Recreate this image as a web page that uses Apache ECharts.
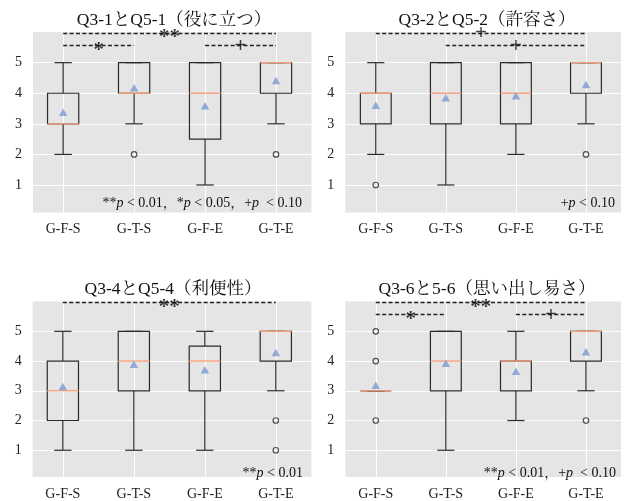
<!DOCTYPE html>
<html>
<head>
<meta charset="utf-8">
<script src="https://cdn.jsdelivr.net/npm/echarts@6/dist/echarts.min.js"></script>
<style>html,body{margin:0;padding:0;background:#fff;}#c{width:624px;height:501px;}</style>
</head>
<body>
<div id="c"></div>
<script>
const categories = ['G-F-S', 'G-T-S', 'G-F-E', 'G-T-E'];
const panelTitles = ['Q3-1とQ5-1（役に立つ）', 'Q3-2とQ5-2（許容さ）', 'Q3-4とQ5-4（利便性）', 'Q3-6と5-6（思い出し易さ）'];
const yTicks = [1, 2, 3, 4, 5];

// [min, Q1, median, Q3, max] per category
const boxQ31 = [[2, 3, 3, 4, 5], [3, 4, 4, 5, 5], [1, 2.5, 4, 5, 5], [3, 4, 5, 5, 5]];
const boxQ32 = [[2, 3, 4, 4, 5], [1, 3, 4, 5, 5], [2, 3, 4, 5, 5], [3, 4, 5, 5, 5]];
const boxQ34 = [[1, 2, 3, 4, 5], [1, 3, 4, 5, 5], [1, 3, 4, 4.5, 5], [3, 4, 5, 5, 5]];
const boxQ36 = [[3, 3, 3, 3, 3], [1, 3, 4, 5, 5], [2, 3, 4, 4, 5], [3, 4, 5, 5, 5]];

const meanQ31 = [3.38, 4.18, 3.59, 4.42];
const meanQ32 = [3.61, 3.85, 3.92, 4.29];
const meanQ34 = [3.14, 3.89, 3.71, 4.29];
const meanQ36 = [3.19, 3.93, 3.66, 4.31];

// [category index, value]
const outlierQ31 = [[1, 2], [3, 2]];
const outlierQ32 = [[0, 1], [3, 2]];
const outlierQ34 = [[3, 2], [3, 1]];
const outlierQ36 = [[0, 2], [0, 4], [0, 5], [3, 2]];

// significance brackets: [from category, to category, level, mark]
const bracketLevels = [5.97, 5.56];
const sigQ31 = [[0, 3, 0, '**'], [0, 1, 1, '*'], [2, 3, 1, '+']];
const sigQ32 = [[0, 3, 0, '+'], [1, 3, 1, '+']];
const sigQ34 = [[0, 3, 0, '**']];
const sigQ36 = [[0, 3, 0, '**'], [0, 1, 1, '*'], [2, 3, 1, '+']];

// notes: pieces [text, italic?]
const noteQ31 = [['**', 0], ['p', 1], [' < 0.01，*', 0], ['p', 1], [' < 0.05，+', 0], ['p', 1], ['  < 0.10', 0]];
const noteQ32 = [['+', 0], ['p', 1], [' < 0.10', 0]];
const noteQ34 = [['**', 0], ['p', 1], [' < 0.01', 0]];
const noteQ36 = [['**', 0], ['p', 1], [' < 0.01，+', 0], ['p', 1], ['  < 0.10', 0]];

const panels = [
  {box: boxQ31, mean: meanQ31, out: outlierQ31, sig: sigQ31, note: noteQ31},
  {box: boxQ32, mean: meanQ32, out: outlierQ32, sig: sigQ32, note: noteQ32},
  {box: boxQ34, mean: meanQ34, out: outlierQ34, sig: sigQ34, note: noteQ34},
  {box: boxQ36, mean: meanQ36, out: outlierQ36, sig: sigQ36, note: noteQ36}
];

const layout = [
  {left: 33, top: 32.1, width: 278.5, height: 180.4, xmin: 0.575, titleX: 169, titleY: 7, noteRight: 322, noteTop: 196},
  {left: 345.3, top: 32.1, width: 279.8, height: 180.4, xmin: 0.565, titleX: 482, titleY: 7, noteRight: 9, noteTop: 196},
  {left: 32.7, top: 301.6, width: 278.6, height: 181, xmin: 0.575, titleX: 168, titleY: 276, noteRight: 321, noteTop: 466},
  {left: 345.3, top: 301.6, width: 279.8, height: 181, xmin: 0.565, titleX: 482, titleY: 276, noteRight: 8, noteTop: 466}
];

const SERIF = "'Liberation Serif', 'Times New Roman', 'Noto Serif CJK JP', 'Noto Sans CJK JP', serif";
const MEDIAN = '#F6A07C';
const LINE = '#2b2b2b';
const markOffset = {'**': [0, 5], '*': [0, 5], '+': [0, 1]};

function renderBox(params, api) {
  const x = api.value(0);
  const pMin = api.coord([x, api.value(1)]);
  const pQ1 = api.coord([x, api.value(2)]);
  const pMed = api.coord([x, api.value(3)]);
  const pQ3 = api.coord([x, api.value(4)]);
  const pMax = api.coord([x, api.value(5)]);
  const unit = api.size([1, 0])[0];
  const bw = unit * 0.44, cw = unit * 0.245;
  const cx = pMed[0];
  const st = {stroke: LINE, lineWidth: 1.2, fill: null};
  return {
    type: 'group',
    children: [
      {type: 'line', shape: {x1: cx, y1: pQ1[1], x2: cx, y2: pMin[1]}, style: st},
      {type: 'line', shape: {x1: cx, y1: pQ3[1], x2: cx, y2: pMax[1]}, style: st},
      {type: 'line', shape: {x1: cx - cw / 2, y1: pMin[1], x2: cx + cw / 2, y2: pMin[1]}, style: st},
      {type: 'line', shape: {x1: cx - cw / 2, y1: pMax[1], x2: cx + cw / 2, y2: pMax[1]}, style: st},
      {type: 'rect', shape: {x: cx - bw / 2, y: pQ3[1], width: bw, height: pQ1[1] - pQ3[1]}, style: st},
      {type: 'line', shape: {x1: cx - bw / 2, y1: pMed[1], x2: cx + bw / 2, y2: pMed[1]}, style: {stroke: MEDIAN, lineWidth: 1.4}}
    ]
  };
}

const option = {
  animation: false,
  backgroundColor: '#ffffff',
  title: [],
  grid: [],
  xAxis: [],
  yAxis: [],
  series: []
};

panels.forEach((p, i) => {
  const L = layout[i];
  option.title.push({
    text: panelTitles[i], left: L.titleX, top: L.titleY, textAlign: 'center',
    textStyle: {fontFamily: SERIF, fontSize: 17.5, fontWeight: 'normal', color: '#111'}
  });
  const rich = {n: {fontFamily: SERIF, fontSize: 14, color: '#111'}, i: {fontFamily: SERIF, fontSize: 14, fontStyle: 'italic', color: '#111'}};
  option.title.push({
    text: p.note.map(s => '{' + (s[1] ? 'i' : 'n') + '|' + s[0] + '}').join(''),
    right: L.noteRight, top: L.noteTop, padding: 0,
    textStyle: {rich: rich, fontFamily: SERIF, fontSize: 14, fontWeight: 'normal', color: '#111'}
  });
  option.grid.push({
    left: L.left, top: L.top, width: L.width, height: L.height,
    show: true, backgroundColor: '#E5E5E5', borderWidth: 0
  });
  option.xAxis.push({
    type: 'value', gridIndex: i, min: L.xmin, max: 4.5, minInterval: 1, maxInterval: 1,
    axisLine: {show: false}, axisTick: {show: false},
    splitLine: {show: true, showMinLine: false, showMaxLine: false, lineStyle: {color: '#ffffff', width: 1}},
    axisLabel: {
      margin: 10, fontFamily: SERIF, fontSize: 14, color: '#222',
      formatter: v => (Math.abs(v - Math.round(v)) < 1e-6 && v >= 1 && v <= 4) ? categories[Math.round(v) - 1] : ''
    }
  });
  option.yAxis.push({
    type: 'value', gridIndex: i, min: 0.1, max: 6, minInterval: 1, maxInterval: 1,
    axisLine: {show: false}, axisTick: {show: false},
    splitLine: {show: true, showMinLine: false, showMaxLine: false, lineStyle: {color: '#ffffff', width: 1}},
    axisLabel: {
      margin: 11, fontFamily: SERIF, fontSize: 14, color: '#222',
      formatter: v => yTicks.indexOf(v) >= 0 ? String(v) : ''
    }
  });
  option.series.push({
    type: 'custom', xAxisIndex: i, yAxisIndex: i,
    renderItem: renderBox,
    dimensions: ['x', 'min', 'q1', 'med', 'q3', 'max'],
    encode: {x: 0, y: [1, 2, 3, 4, 5]},
    data: p.box.map((b, k) => [k + 1].concat(b)),
    z: 2
  });
  option.series.push({
    type: 'scatter', xAxisIndex: i, yAxisIndex: i,
    symbol: 'circle', symbolSize: 5.5,
    itemStyle: {color: 'rgba(0,0,0,0)', borderColor: LINE, borderWidth: 1.2},
    data: p.out.map(o => [o[0] + 1, o[1]]),
    z: 3
  });
  option.series.push({
    type: 'scatter', xAxisIndex: i, yAxisIndex: i,
    symbol: 'triangle', symbolSize: [8.5, 7.5],
    itemStyle: {color: '#7C98D0'},
    data: p.mean.map((m, k) => [k + 1, m]),
    z: 4
  });
  option.series.push({
    type: 'line', xAxisIndex: i, yAxisIndex: i, data: [], silent: true,
    markLine: {
      silent: true, symbol: ['none', 'none'], animation: false,
      lineStyle: {type: [4, 2.4], color: '#222', width: 1.3},
      label: {show: false},
      data: p.sig.map(s => [
        {coord: [s[0] + 1, bracketLevels[s[2]]]},
        {coord: [s[1] + 1, bracketLevels[s[2]]]}
      ])
    }
  });
  option.series.push({
    type: 'scatter', xAxisIndex: i, yAxisIndex: i, silent: true,
    symbol: 'circle', symbolSize: 0,
    itemStyle: {color: 'rgba(0,0,0,0)'},
    data: p.sig.map(s => ({
      value: [(s[0] + s[1]) / 2 + 1, bracketLevels[s[2]]],
      name: s[3],
      label: {offset: markOffset[s[3]]}
    })),
    label: {
      show: true, position: 'inside', formatter: '{b}',
      fontFamily: SERIF, fontSize: 21, fontWeight: 'bold', color: '#111'
    },
    z: 5
  });
});

const chart = echarts.init(document.getElementById('c'), null, {renderer: 'canvas'});
chart.setOption(option);
</script>
</body>
</html>
